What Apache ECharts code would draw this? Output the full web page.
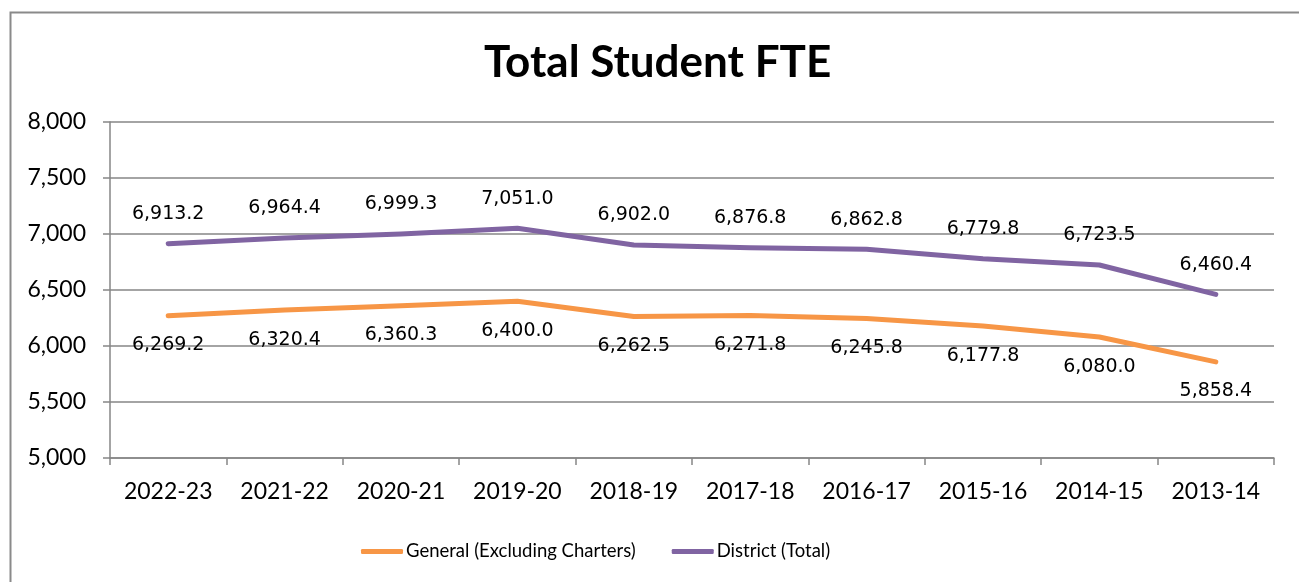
<!DOCTYPE html>
<html>
<head>
<meta charset="utf-8">
<script src="https://cdn.jsdelivr.net/npm/echarts@6/dist/echarts.min.js"></script>
<style>
html,body{margin:0;padding:0;background:#fff;}
#chart{width:1299px;height:582px;}
</style>
</head>
<body>
<div id="chart"></div>
<script>
const categories = ['2022-23','2021-22','2020-21','2019-20','2018-19','2017-18','2016-17','2015-16','2014-15','2013-14'];
const generalValues = [6269.2, 6320.4, 6360.3, 6400.0, 6262.5, 6271.8, 6245.8, 6177.8, 6080.0, 5858.4];
const districtValues = [6913.2, 6964.4, 6999.3, 7051.0, 6902.0, 6876.8, 6862.8, 6779.8, 6723.5, 6460.4];
const seriesNames = ['General (Excluding Charters)', 'District (Total)'];
const yTicks = { min: 5000, max: 8000, interval: 500 };

const axisFont = 'Lato, "Open Sans", sans-serif';
const fmt = v => v.toLocaleString('en-US', {minimumFractionDigits: 1, maximumFractionDigits: 1});

const chart = echarts.init(document.getElementById('chart'), null, {renderer: 'canvas'});
chart.setOption({
  animation: false,
  backgroundColor: '#fff',
  graphic: [{
    type: 'rect', left: 8, top: 10, silent: true,
    shape: {width: 1400, height: 700},
    style: {fill: 'none', stroke: '#8a8a8a', lineWidth: 2}
  }],
  title: {
    text: 'Total Student FTE',
    left: 479, top: 36,
    textStyle: {fontFamily: axisFont, fontWeight: 'bold', fontSize: 44, color: '#000'}
  },
  grid: {left: 110, right: 25, top: 122, bottom: 124, containLabel: false},
  legend: {
    bottom: 16, left: 356,
    icon: 'roundRect', itemWidth: 42, itemHeight: 5, itemGap: 36,
    textStyle: {fontFamily: axisFont, fontSize: 18.5, color: '#000', padding: [0,0,0,-2]},
    data: seriesNames
  },
  xAxis: {
    type: 'category', data: categories, boundaryGap: true,
    axisLine: {lineStyle: {color: '#868686', width: 1.5}},
    axisTick: {show: true, length: 7, lineStyle: {color: '#868686', width: 1.5}},
    axisLabel: {fontFamily: axisFont, fontSize: 23, color: '#000', margin: 22}
  },
  yAxis: {
    type: 'value', min: yTicks.min, max: yTicks.max, interval: yTicks.interval,
    axisLine: {show: true, lineStyle: {color: '#868686', width: 1.5}},
    axisTick: {show: true, length: 7, lineStyle: {color: '#868686', width: 1.5}},
    splitLine: {show: true, lineStyle: {color: '#868686', width: 1.5}},
    axisLabel: {fontFamily: axisFont, fontSize: 23, color: '#000', margin: 24,
      formatter: v => v.toLocaleString('en-US')}
  },
  series: [
    {
      name: seriesNames[0], type: 'line', data: generalValues,
      symbol: 'circle', symbolSize: 0.1, showSymbol: true,
      lineStyle: {color: '#F79646', width: 5, cap: 'round', join: 'round'},
      itemStyle: {color: '#F79646'},
      label: {show: true, position: 'bottom', distance: 20,
        fontFamily: '"DejaVu Sans", sans-serif', fontSize: 19, color: '#000',
        formatter: p => fmt(p.value)}
    },
    {
      name: seriesNames[1], type: 'line', data: districtValues,
      symbol: 'circle', symbolSize: 0.1, showSymbol: true,
      lineStyle: {color: '#8064A2', width: 5, cap: 'round', join: 'round'},
      itemStyle: {color: '#8064A2'},
      label: {show: true, position: 'top', distance: 20,
        fontFamily: '"DejaVu Sans", sans-serif', fontSize: 19, color: '#000',
        formatter: p => fmt(p.value)}
    }
  ]
});
</script>
</body>
</html>
